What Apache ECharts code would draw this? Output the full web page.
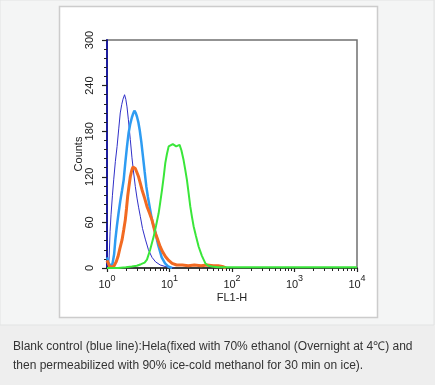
<!DOCTYPE html>
<html><head><meta charset="utf-8">
<script src="https://cdn.jsdelivr.net/npm/echarts@6/dist/echarts.min.js"></script>
<style>html,body{margin:0;padding:0;background:#eeeeee;}#c{width:435px;height:385px;}</style>
</head><body><div id="c"></div>
<script>
// ---- data ----
const yTicks = [0, 60, 120, 180, 240, 300];
const xDecades = [1, 10, 100, 1000, 10000];
const xMinorTicks = [2,3,4,5,6,7,8,9,20,30,40,50,60,70,80,90,200,300,400,500,600,700,800,900,2000,3000,4000,5000,6000,7000,8000,9000];

const blankX = [1.0,1.04,1.08,1.12,1.16,1.22,1.28,1.36,1.45,1.54,1.63,1.72,1.8,1.91,2.0,2.09,2.2,2.36,2.51,2.67,2.84,3.02,3.2,3.41,3.7,4.1,4.6,5.25,6.0,7.1,8.5,10,12];
const blankY = [8,3,12,48,70,95,116,140,160,183,204,215,222,228,222,212,195,169,145,125,107,92,80,68,52,38,24,14,8,4,2,1,0];

const lightX = [1.0,1.05,1.1,1.15,1.22,1.3,1.36,1.44,1.53,1.63,1.74,1.85,1.96,2.09,2.22,2.36,2.5,2.62,2.74,2.88,3.02,3.17,3.33,3.54,3.76,4.0,4.26,4.5,4.8,5.25,5.9,6.6,7.5,8.5,9.5,11];
const lightY = [14,8,3,2,5,18,37,55,72,88,102,116,138,160,178,190,198,203,207,204,199,192,182,166,147,127,107,94,81,63,48,30,14,6,2,0];

const orangeX = [1.0,1.05,1.1,1.2,1.3,1.4,1.5,1.6,1.74,1.85,1.96,2.05,2.14,2.25,2.36,2.48,2.6,2.72,2.84,3.0,3.2,3.4,3.63,4.0,4.36,4.8,5.25,5.93,6.5,7.1,7.8,8.6,9.7,11,13,16,20,25,32,40,50,60,70,80];
const orangeY = [10,6,2,1,3,8,15,25,37,50,63,78,94,108,120,128,133,133,131,126,120,112,103,92,81,72,63,46,37,28,21,15,10,6,4,4,3,4,3,4,3,3,2,0];

const greenX = [1.0,1.5,2,2.5,3,3.5,4.0,4.36,4.9,5.57,6.1,6.7,7.1,7.6,8.1,8.56,9.1,9.7,10.4,11.3,12.0,12.8,13.6,14.5,15.5,16.8,17.8,19.0,20.2,21.5,22.8,24.3,26.5,29.3,33,37.5,42,48,60,100,200,500,1000,3000,10000];
const greenY = [0,0,1,2,3,5,7,11,24,41,56,72,86,103,121,138,150,160,162,163,161,160,162,162,155,142,130,116,99,81,68,55,42,28,16,6,3,2,1,1,1,1,1,1,1];

const captionLines = [
  'Blank control (blue line):Hela(fixed with 70% ethanol (Overnight at 4\u2103) and',
  'then permeabilized with 90% ice-cold methanol for 30 min on ice).'
];

function pairs(xs, ys){ return xs.map((x,i)=>[x, ys[i]]); }

const chart = echarts.init(document.getElementById('c'), null, {renderer:'canvas'});
const FONT = 'Liberation Sans, Arial, sans-serif';
const lineSeries = (name, xs, ys, color, w) => ({
  name, type:'line', xAxisIndex:0, yAxisIndex:0, data:pairs(xs, ys), symbol:'none',
  lineStyle:{color, width:w}, itemStyle:{color}, animation:false
});

chart.setOption({
  animation:false,
  graphic:[
    {type:'rect', z:-100, shape:{x:0,y:0,width:434,height:325}, style:{fill:'#f4f5f5', stroke:'#e2e3e3', lineWidth:1}},
    {type:'rect', z:-99, shape:{x:59.5,y:6.5,width:318,height:311}, style:{fill:'#ffffff', stroke:'#cccccc', lineWidth:1.5}},
    {type:'text', z:10, left:13, top:341, style:{text:captionLines[0], fontFamily:FONT, fontSize:12, fill:'#333333'}},
    {type:'text', z:10, left:13, top:360, style:{text:captionLines[1], fontFamily:FONT, fontSize:12, fill:'#333333'}}
  ],
  grid:{left:107, top:40, right:78, bottom:117, show:true, borderColor:'#707070', borderWidth:1.5, backgroundColor:'transparent'},
  xAxis:[{
    type:'log', logBase:10, min:1, max:10000, position:'bottom',
    name:'FL1-H', nameLocation:'middle', nameGap:24, nameMoveOverlap:false,
    nameTextStyle:{fontFamily:FONT, fontSize:11, color:'#222'},
    axisLine:{show:true, lineStyle:{color:'#222', width:1.5}},
    axisTick:{show:true, inside:false, length:4, lineStyle:{color:'#222', width:1.2}},
    minorTick:{show:false},
    splitLine:{show:false},
    axisLabel:{
      margin:6, fontFamily:FONT,
      formatter:function(v){ return '{b|10}{s|' + Math.round(Math.log10(v)) + '}'; },
      rich:{
        b:{fontFamily:FONT, fontSize:11, color:'#222', lineHeight:16, verticalAlign:'bottom'},
        s:{fontFamily:FONT, fontSize:9, color:'#222', lineHeight:16, verticalAlign:'top', padding:[0,0,4,0]}
      }
    }
  },{
    type:'log', logBase:10, min:1, max:10000, gridIndex:0, position:'bottom',
    axisLine:{show:false}, axisLabel:{show:false}, splitLine:{show:false},
    axisTick:{show:true, inside:false, length:3, customValues:xMinorTicks, lineStyle:{color:'#222', width:1}}
  }],
  yAxis:{
    type:'value', min:0, max:300, interval:60,
    name:'Counts', nameLocation:'middle', nameGap:23, nameRotate:90, nameMoveOverlap:false,
    nameTextStyle:{fontFamily:FONT, fontSize:11, color:'#222'},
    axisLine:{show:true, lineStyle:{color:'#1c1c9c', width:2}},
    axisTick:{show:true, inside:false, length:5, lineStyle:{color:'#222', width:1.2}},
    minorTick:{show:true, splitNumber:5, length:3, lineStyle:{color:'#222', width:1}},
    splitLine:{show:false},
    axisLabel:{rotate:90, margin:12, fontFamily:FONT, fontSize:11, color:'#222'}
  },
  series:[
    lineSeries('Blank', blankX, blankY, '#2f2fc8', 1),
    lineSeries('Sample 1', lightX, lightY, '#2e9cf2', 2.5),
    lineSeries('Sample 2', orangeX, orangeY, '#f26a22', 3),
    lineSeries('Sample 3', greenX, greenY, '#3ae63a', 2)
  ]
});
</script></body></html>
